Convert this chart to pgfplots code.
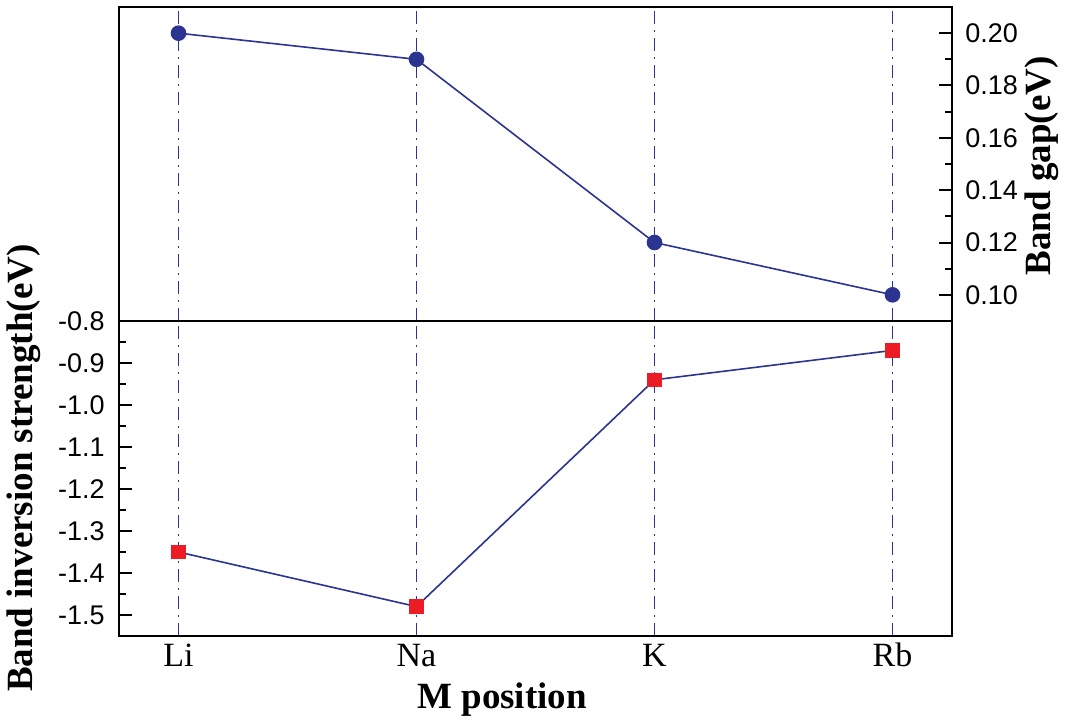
\documentclass[border=0pt]{standalone}
\usepackage{fontspec}
\setmainfont{Liberation Serif}
\newfontfamily\arialfont{Liberation Sans}
\usepackage{pgfplots}
\pgfplotsset{compat=1.18}
\definecolor{lineblue}{RGB}{43,52,145}
\definecolor{sqred}{RGB}{236,28,36}
\begin{document}
\begin{tikzpicture}
\useasboundingbox (-59.5pt,-43.5pt) rectangle (474.5pt,318pt);
\pgfplotsset{common/.style={
  scale only axis, width=416.5pt,
  xmin=-0.25, xmax=3.25, xtick={0,1,2,3},
  xmajorgrids,
  major grid style={lineblue, line width=0.9pt, dash pattern=on 6.5pt off 3pt on 1pt off 3pt},
  axis line style={line width=1pt},
  tick align=inside,
  major tick length=6.5pt, minor tick length=3.5pt,
  every tick/.style={black, line width=1pt},
  xtick style={draw=none},
  minor y tick num=1,
  scaled y ticks=false,
  /pgf/number format/assume math mode=true,
  yticklabel style={font=\arialfont\fontsize{13.5}{15}\selectfont, inner sep=0pt},
}}
% bottom panel
\begin{axis}[common, at={(0,0)}, anchor=south west, height=157.5pt,
  ymin=-1.55, ymax=-0.8,
  ytick={-1.5,-1.4,-1.3,-1.2,-1.1,-1.0,-0.9,-0.8},
  ytick pos=left, xtick pos=bottom,
  xticklabels={Li,Na,K,Rb},
  xticklabel style={font=\fontsize{17}{19}\selectfont, anchor=base, yshift=-15pt},
  yticklabel style={anchor=east, xshift=-7pt,
    /pgf/number format/fixed, /pgf/number format/fixed zerofill, /pgf/number format/precision=1},
  xlabel={M position},
  xlabel style={font=\bfseries\fontsize{18.5}{20}\selectfont, at={(axis description cs:0.46,0)}, anchor=base, yshift=-36pt},
  ylabel={Band inversion strength(eV)},
  ylabel style={font=\bfseries\fontsize{18.5}{20}\selectfont, at={(axis description cs:-0.114,0.533)}, anchor=center},
]
\addplot[lineblue, line width=0.8pt, mark=square*, mark size=3.2pt, mark options={fill=sqred, draw=sqred}]
  coordinates {(0,-1.35) (1,-1.48) (2,-0.94) (3,-0.87)};
\end{axis}
% top panel
\begin{axis}[common, at={(0,157.5pt)}, anchor=south west, height=157pt,
  ymin=0.09, ymax=0.21,
  ytick={0.10,0.12,0.14,0.16,0.18,0.20},
  ytick pos=right, yticklabel pos=right,
  xticklabels={},
  yticklabel style={anchor=west, xshift=6.5pt,
    /pgf/number format/fixed, /pgf/number format/fixed zerofill, /pgf/number format/precision=2},
  ylabel={Band gap(eV)},
  ylabel style={font=\bfseries\fontsize{18.5}{20}\selectfont, at={(axis description cs:1.108,0.494)}, anchor=center, rotate=0},
]
\addplot[lineblue, line width=0.8pt, mark=*, mark size=3.5pt, mark options={fill=lineblue, draw=lineblue}]
  coordinates {(0,0.20) (1,0.19) (2,0.12) (3,0.10)};
\end{axis}
\end{tikzpicture}
\end{document}
